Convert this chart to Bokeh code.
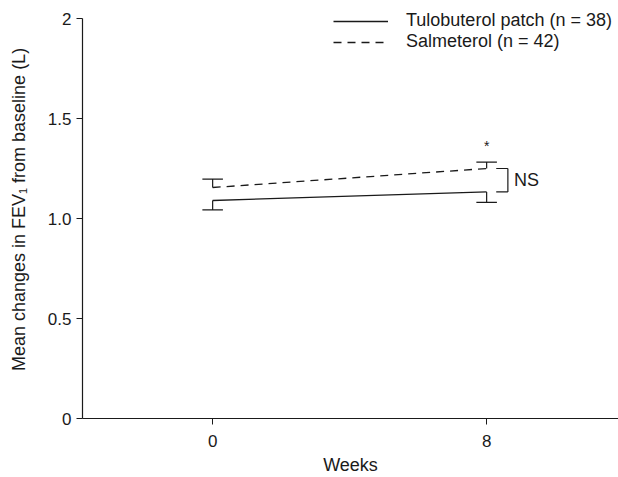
from bokeh.plotting import figure
from bokeh.models import FixedTicker, Legend, LegendItem, Range1d
from bokeh.core.properties import value
from bokeh.embed import file_html
from bokeh.resources import INLINE

# ---- data ----
weeks = [0, 8]
week_ticks = [0, 8]
tulo_mean = [1.09, 1.133]
tulo_err = [0.047, 0.052]      # drawn downward
salm_mean = [1.155, 1.25]
salm_err = [0.042, 0.032]      # drawn upward
y_ticks = [0, 0.5, 1.0, 1.5, 2.0]
y_tick_labels = ["0", "0.5", "1.0", "1.5", "2"]
series_names = ["Tulobuterol patch (n = 38)", "Salmeterol (n = 42)"]
sig_label = "NS"
star_label = "*"

FONT = "Liberation Sans"
INK = "#1a1a1a"
FS = "18px"
FS_TICK = "17px"

p = figure(width=618, height=477, output_backend="svg", toolbar_location=None,
           x_range=Range1d(-3.8, 11.85), y_range=Range1d(0, 2.09),
           min_border_left=82, min_border_right=0, min_border_top=0, min_border_bottom=57)
p.outline_line_color = None
p.xgrid.visible = False
p.ygrid.visible = False
p.background_fill_color = "white"
p.border_fill_color = "white"

for ax in (p.xaxis[0], p.yaxis[0]):
    ax.axis_line_color = INK
    ax.axis_line_width = 1.2
    ax.major_tick_line_color = INK
    ax.major_tick_out = 6
    ax.major_tick_in = 0
    ax.minor_tick_line_color = None
    ax.major_label_text_font = FONT
    ax.major_label_text_font_size = FS_TICK
    ax.major_label_text_color = INK
    ax.axis_label_text_font = FONT
    ax.axis_label_text_font_size = FS
    ax.axis_label_text_font_style = "normal"
    ax.axis_label_text_color = INK

p.xaxis[0].ticker = FixedTicker(ticks=week_ticks)
p.xaxis[0].axis_label = "Weeks"
p.xaxis[0].major_label_standoff = 10
p.xaxis[0].axis_label_standoff = 5
p.yaxis[0].ticker = FixedTicker(ticks=y_ticks)
p.yaxis[0].bounds = (y_ticks[0], y_ticks[-1])
p.yaxis[0].major_label_overrides = {t: l for t, l in zip(y_ticks, y_tick_labels)}
p.yaxis[0].axis_label = "Mean changes in FEV\u2081 from baseline (L)"
p.yaxis[0].major_label_standoff = 5
p.yaxis[0].axis_label_standoff = 16

# lines
r_tulo = p.line(weeks, tulo_mean, line_color=INK, line_width=1.3)
r_salm = p.line(weeks, salm_mean, line_color=INK, line_width=1.3, line_dash="8 6")

# one-sided error bars
cap = 0.3
t_lo = [m - e for m, e in zip(tulo_mean, tulo_err)]
s_hi = [m + e for m, e in zip(salm_mean, salm_err)]
p.segment(x0=weeks, y0=tulo_mean, x1=weeks, y1=t_lo, line_color=INK, line_width=1.2)
p.segment(x0=[w - cap for w in weeks], y0=t_lo, x1=[w + cap for w in weeks], y1=t_lo,
          line_color=INK, line_width=1.2)
p.segment(x0=weeks, y0=salm_mean, x1=weeks, y1=s_hi, line_color=INK, line_width=1.2)
p.segment(x0=[w - cap for w in weeks], y0=s_hi, x1=[w + cap for w in weeks], y1=s_hi,
          line_color=INK, line_width=1.2)

# significance bracket at week 8
xe = weeks[-1]
bx0, bx1 = xe + 0.28, xe + 0.62
p.segment(x0=[bx0, bx0, bx1], y0=[salm_mean[-1], tulo_mean[-1], salm_mean[-1]],
          x1=[bx1, bx1, bx1], y1=[salm_mean[-1], tulo_mean[-1], tulo_mean[-1]],
          line_color=INK, line_width=1.2)
p.text(x=[bx1 + 0.18], y=[(salm_mean[-1] + tulo_mean[-1]) / 2], text=[sig_label],
       text_font=value(FONT), text_font_size=FS, text_color=INK,
       text_baseline="middle", text_align="left")
p.text(x=[xe], y=[s_hi[-1]], text=[star_label], y_offset=-8,
       text_font=value(FONT), text_font_size="14px", text_color=INK,
       text_baseline="bottom", text_align="center")

legend = Legend(items=[LegendItem(label=series_names[0], renderers=[r_tulo]),
                       LegendItem(label=series_names[1], renderers=[r_salm])],
                location=(251, 366), orientation="vertical",
                glyph_width=55, glyph_height=16, label_height=16, spacing=-5,
                padding=0, margin=0, label_standoff=18,
                label_text_font=FONT, label_text_font_size=FS, label_text_color=INK,
                border_line_color=None, background_fill_alpha=0)
p.add_layout(legend)

open("out.html", "w").write(file_html(p, INLINE))
